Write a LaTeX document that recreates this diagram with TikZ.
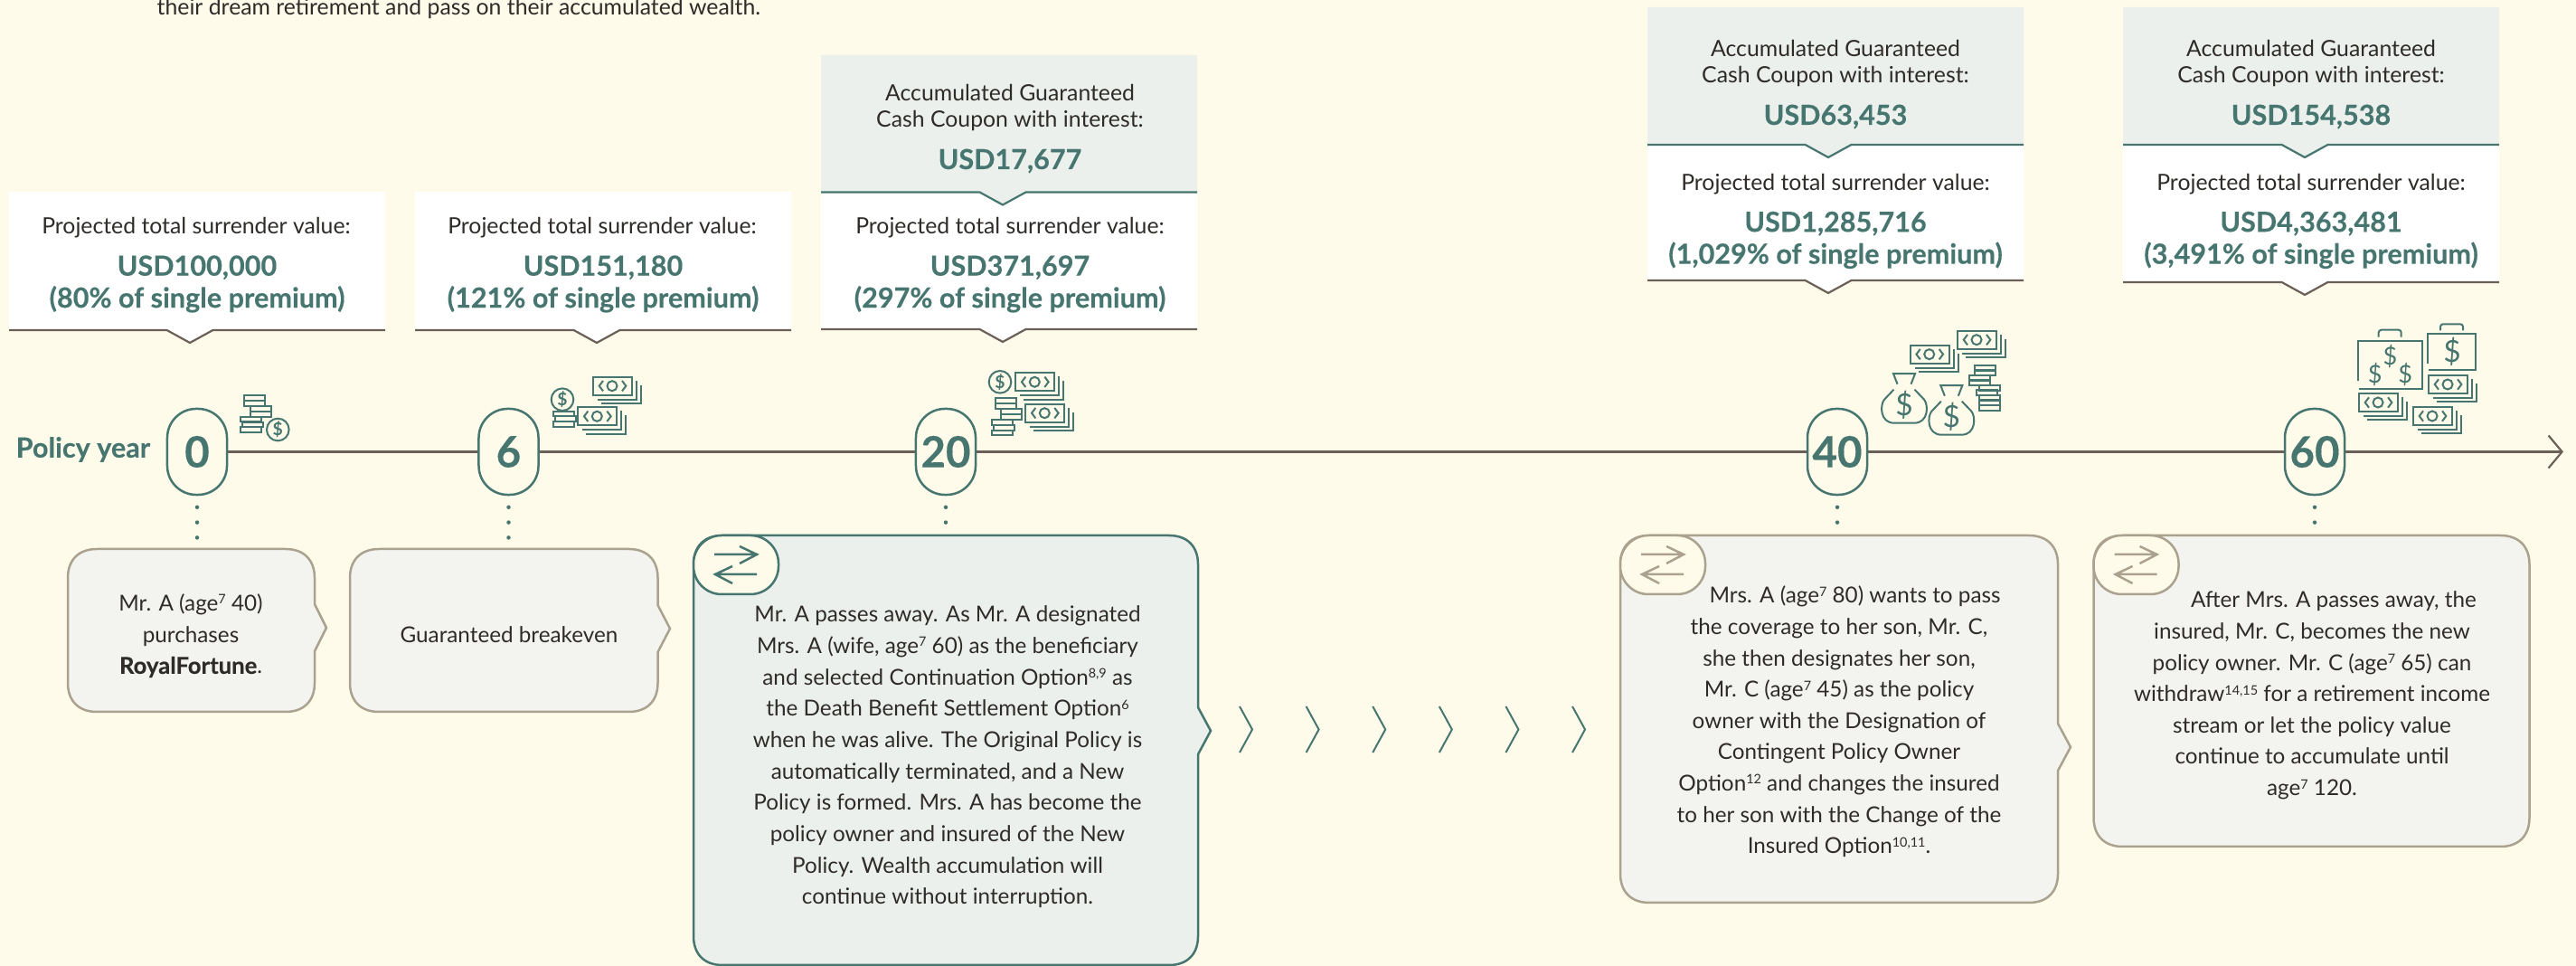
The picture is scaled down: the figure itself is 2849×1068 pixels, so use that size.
\documentclass[tikz,border=0pt]{standalone}
\usepackage{fontspec}
\setmainfont{Lato}
\newfontfamily\heavyfont[UprightFont=*-Bold,FakeBold=0.25]{Lato}
\usetikzlibrary{arrows.meta}
\definecolor{pagebg}{HTML}{FFFBEB}
\definecolor{teal}{HTML}{46766F}
\definecolor{tealfill}{HTML}{EBF0ED}
\definecolor{greyfill}{HTML}{F3F4F0}
\definecolor{taupe}{HTML}{6B6057}
\definecolor{sand}{HTML}{AAA18E}
\definecolor{ink}{HTML}{2E2B28}
\newcommand{\sups}[1]{\raisebox{0.62ex}{\fontsize{4.1}{4.1}\selectfont #1}}
\tikzset{
	labeltext/.style={inner sep=0pt,align=center,text=ink,font=\fontsize{7.05}{8.5}\selectfont},
	amounttext/.style={inner sep=0pt,align=center,text=teal,font=\fontsize{8.7}{10.05}\heavyfont},
	bodytext/.style={inner sep=0pt,align=center,text=ink,font=\fontsize{6.9}{9.85}\selectfont},
	yearpill/.style={draw=teal,line width=0.025cm,fill=pagebg,rounded corners=0.32cm,minimum width=0.66cm,minimum height=0.95cm,inner sep=0pt,text=teal,font=\fontsize{13.5}{13.5}\heavyfont},
	axisline/.style={draw=taupe,line width=0.022cm},
	dotline/.style={draw=teal,line width=0.045cm,line cap=round,dash pattern=on 0pt off 0.168cm,shorten <=0.125cm,shorten >=0.1cm},
	icon/.style={draw=teal,line width=0.02cm},
	dollarsign/.style={inner sep=0pt,text=teal}
}
\newcommand{\valuepanel}[6]{
	\fill[#5] (#1,#2) -- (#1+416,#2) -- (#1+416,#3) -- (#4+25.5,#3) -- (#4,#3+14) -- (#4-25.5,#3) -- (#1,#3) -- cycle;
	\draw[#6,line width=0.022cm] (#1,#3) -- (#4-25.5,#3) -- (#4,#3+14) -- (#4+25.5,#3) -- (#1+416,#3);
}
\newcommand{\notebox}[8]{
	\draw[#7,fill=#8,line width=0.025cm] (#1+32,#2) -- (#3-32,#2) .. controls (#3-12,#2) and (#3,#2+12) .. (#3,#2+32)
		-- (#3,#5-26) -- (#6,#5) -- (#3,#5+26) -- (#3,#4-32) .. controls (#3,#4-12) and (#3-12,#4) .. (#3-32,#4)
		-- (#1+32,#4) .. controls (#1+12,#4) and (#1,#4-12) .. (#1,#4-32) -- (#1,#2+32) .. controls (#1,#2+12) and (#1+12,#2) .. (#1+32,#2) -- cycle;
}
\newcommand{\plainnote}[6]{
	\draw[#5,fill=#6,line width=0.025cm] (#1+32,#2) -- (#3-32,#2) .. controls (#3-12,#2) and (#3,#2+12) .. (#3,#2+32)
		-- (#3,#4-32) .. controls (#3,#4-12) and (#3-12,#4) .. (#3-32,#4)
		-- (#1+32,#4) .. controls (#1+12,#4) and (#1,#4-12) .. (#1,#4-32) -- (#1,#2+32) .. controls (#1,#2+12) and (#1+12,#2) .. (#1+32,#2) -- cycle;
}
\newcommand{\swaptab}[2]{
	\draw[#2,fill=pagebg,line width=0.025cm,rounded corners=0.31cm] (#1,592) rectangle (#1+94,657);
	\draw[#2,line width=0.025cm] (#1+23,613) -- (#1+70,613) (#1+51,604) -- (#1+70,613) -- (#1+51,623);
	\draw[#2,line width=0.025cm] (#1+70,635) -- (#1+24,635) (#1+43,626) -- (#1+24,635) -- (#1+43,645);
}
\newcommand{\bill}[2]{
	\draw[icon] (#1,#2) rectangle (#1+43,#2+20);
	\draw[icon] (#1+5,#2+25) -- (#1+48,#2+25) -- (#1+48,#2+4);
	\draw[icon] (#1+9,#2+29.5) -- (#1+53,#2+29.5) -- (#1+53,#2+9);
	\draw[icon] (#1+21,#2+10) circle [radius=0.055cm];
	\draw[icon] (#1+11,#2+4.3) -- (#1+6.7,#2+10) -- (#1+11,#2+15.7);
	\draw[icon] (#1+32,#2+4.3) -- (#1+36.3,#2+10) -- (#1+32,#2+15.7);
}
\newcommand{\coinbar}[2]{\draw[icon] (#1,#2) rectangle (#1+23,#2+5.8);}
\newcommand{\coinstack}[2]{
	\foreach \dx/\dy in {0/0,0/6,6.3/11.7,6.3/17.7,-4.3/23.4,-2/29.3,-4.3/35.2}{\coinbar{#1+\dx}{#2+\dy}}
}
\newcommand{\coin}[3]{
	\draw[icon] (#2,#3) circle [radius=0.123cm];
	\node[dollarsign,font=\fontsize{5.5}{5.5}\selectfont\bfseries] (#1) at (#2,#3) {\$};
}
\newcommand{\moneybag}[3]{
	\draw[icon] (#2-7.5,#3-23) -- (#2-12,#3-34.5) -- (#2+12,#3-34.5) -- (#2+7.5,#3-23);
	\draw[icon] (#2-11.5,#3-17) -- (#2-22,#3-6) .. controls (#2-27,#3) and (#2-27,#3+20) .. (#2-11,#3+20)
		-- (#2+11,#3+20) .. controls (#2+27,#3+20) and (#2+27,#3) .. (#2+22,#3-6) -- (#2+11.5,#3-17);
	\node[dollarsign,font=\fontsize{9.5}{9.5}\selectfont] (#1) at (#2,#3) {\$};
}
\newcommand{\bigcase}[3]{
	\draw[icon] (#2,#3+44) -- (#2,#3) -- (#2+71,#3) -- (#2+71,#3+53) -- (#2+1,#3+53);
	\draw[icon,rounded corners=0.03cm] (#2+23,#3-4) -- (#2+23,#3-12) -- (#2+48,#3-12) -- (#2+48,#3-4);
	\node[dollarsign,font=\fontsize{7.7}{7.7}\selectfont] (#1a) at (#2+35.7,#3+17) {\$};
	\node[dollarsign,font=\fontsize{7.7}{7.7}\selectfont] (#1b) at (#2+19,#3+37) {\$};
	\node[dollarsign,font=\fontsize{7.7}{7.7}\selectfont] (#1c) at (#2+52.5,#3+37) {\$};
}
\newcommand{\smallcase}[3]{
	\draw[icon] (#2,#3+33) -- (#2,#3) -- (#2+53,#3) -- (#2+53,#3+40) -- (#2+1,#3+40);
	\draw[icon,rounded corners=0.03cm] (#2+14,#3-4) -- (#2+14,#3-11) -- (#2+39,#3-11) -- (#2+39,#3-4);
	\node[dollarsign,font=\fontsize{9.5}{9.5}\selectfont] (#1) at (#2+27,#3+20) {\$};
}
\begin{document}
\begin{tikzpicture}[x=0.01cm,y=-0.01cm]
	\useasboundingbox (0,0) rectangle (2849,1068);
	\fill[pagebg] (0,0) rectangle (2849,1068);
	\node[labeltext,anchor=west] (intro) at (173,10) {their dream retirement and pass on their accumulated wealth.};

	\valuepanel{10}{212}{365}{210}{white}{taupe}
	\valuepanel{459}{212}{365}{660}{white}{taupe}
	\valuepanel{908}{212.5}{364}{1109}{white}{taupe}
	\valuepanel{908}{61}{212.5}{1109}{tealfill}{teal}
	\valuepanel{1822}{160}{310}{2022}{white}{taupe}
	\valuepanel{1822}{8}{160}{2022}{tealfill}{teal}
	\valuepanel{2348}{160}{312}{2549}{white}{taupe}
	\valuepanel{2348}{8}{160}{2549}{tealfill}{teal}

	\node[labeltext] (coupA) at (1117,119) {Accumulated Guaranteed\\Cash Coupon with interest:};
	\node[amounttext] (couponA) at (1117,178) {USD17,677};
	\node[labeltext] (coupB) at (2030,70) {Accumulated Guaranteed\\Cash Coupon with interest:};
	\node[amounttext] (couponB) at (2030,129) {USD63,453};
	\node[labeltext] (coupC) at (2556,70) {Accumulated Guaranteed\\Cash Coupon with interest:};
	\node[amounttext] (couponC) at (2556,129) {USD154,538};

	\node[labeltext] (svA) at (217,252) {Projected total surrender value:};
	\node[amounttext] (valA) at (218,314) {USD100,000\\(80\% of single premium)};
	\node[labeltext] (svB) at (666,252) {Projected total surrender value:};
	\node[amounttext] (valB) at (667,314) {USD151,180\\(121\% of single premium)};
	\node[labeltext] (svC) at (1117,252) {Projected total surrender value:};
	\node[amounttext] (valC) at (1117,314) {USD371,697\\(297\% of single premium)};
	\node[labeltext] (svD) at (2030,204) {Projected total surrender value:};
	\node[amounttext] (valD) at (2030,265.5) {USD1,285,716\\(1,029\% of single premium)};
	\node[labeltext] (svE) at (2556,204) {Projected total surrender value:};
	\node[amounttext] (valE) at (2556,265.5) {USD4,363,481\\(3,491\% of single premium)};

	\node[text=teal,inner sep=0pt,anchor=west,font=\fontsize{8.7}{8.7}\heavyfont] (policy) at (17,497) {Policy year};
	\node[yearpill] (p0) at (218,499.5) {0};
	\node[yearpill] (p6) at (562.5,499.5) {6};
	\node[yearpill] (p20) at (1046,499.5) {20};
	\node[yearpill] (p40) at (2032,499.5) {40};
	\node[yearpill] (p60) at (2560,499.5) {60};
	\coordinate (axisend) at (2835,499.5);
	\draw[axisline] (p0) -- (p6);
	\draw[axisline] (p6) -- (p20);
	\draw[axisline] (p20) -- (p40);
	\draw[axisline] (p40) -- (p60);
	\draw[axisline,-{Straight Barb[length=0.15cm,width=0.36cm]}] (p60) -- (axisend);

	\notebox{75}{607}{348}{787}{694}{361}{sand}{greyfill}
	\notebox{387}{607}{727.5}{787}{695}{741}{sand}{greyfill}
	\notebox{767}{592}{1325}{1067}{808}{1339}{teal}{tealfill}
	\notebox{1792}{592}{2276}{998}{826}{2290}{sand}{greyfill}
	\plainnote{2315.5}{592}{2797.5}{936}{sand}{greyfill}
	\swaptab{767}{teal}
	\swaptab{1792}{sand}
	\swaptab{2315.5}{sand}

	\coordinate (n0) at (218,607);
	\coordinate (n6) at (562.5,607);
	\coordinate (n20) at (1046,592);
	\coordinate (n40) at (2032,592);
	\coordinate (n60) at (2560,592);
	\foreach \pname/\nname in {p0/n0,p6/n6,p20/n20,p40/n40,p60/n60}{
		\draw[dotline] (\pname.south) -- (\nname);
	}

	\foreach \x in {1371,1444.6,1518.2,1591.8,1665.4,1739}{
		\draw[teal,line width=0.02cm] (\x,781) -- (\x+14,806.5) -- (\x,832);
	}

	\node[bodytext] (noteA) at (211,703) {Mr. A (age\sups{7} 40)\\purchases\\{\fontsize{7.3}{9.85}\heavyfont RoyalFortune}.};
	\node[bodytext] (noteB) at (563,702) {Guaranteed breakeven};
	\node[bodytext] (noteC) at (1048,837) {Mr. A passes away. As Mr. A designated\\Mrs. A (wife, age\sups{7} 60) as the beneficiary\\and selected Continuation Option\sups{8,9} as\\the Death Benefit Settlement Option\sups{6}\\when he was alive. The Original Policy is\\automatically terminated, and a New\\Policy is formed. Mrs. A has become the\\policy owner and insured of the New\\Policy. Wealth accumulation will\\continue without interruption.};
	\node[bodytext] (noteD) at (2034,798) {\hspace*{0.35cm}Mrs. A (age\sups{7} 80) wants to pass\\the coverage to her son, Mr. C,\\she then designates her son,\\Mr. C (age\sups{7} 45) as the policy\\owner with the Designation of\\Contingent Policy Owner\\Option\sups{12} and changes the insured\\to her son with the Change of the\\Insured Option\sups{10,11}.};
	\node[bodytext] (noteE) at (2557,769) {\hspace*{0.48cm}After Mrs. A passes away, the\\insured, Mr. C, becomes the new\\policy owner. Mr. C (age\sups{7} 65) can\\withdraw\sups{14,15} for a retirement income\\stream or let the policy value\\continue to accumulate until\\age\sups{7} 120.};

	\coinstack{270.3}{437.3}
	\coin{dollarA}{307.3}{475}

	\bill{656}{416.7} \bill{639.3}{450.3}
	\coin{dollarB}{622}{441.7}
	\coinbar{612}{454.7} \coinbar{614}{460.5} \coinbar{612}{466.3}

	\coin{dollarC}{1106}{422.3}
	\bill{1123.3}{412.3} \bill{1134.3}{446.7}
	\coinstack{1101}{440.5}

	\bill{2165}{365.7} \bill{2112.7}{381.7}
	\foreach \dx/\dy in {0/0,0/5.5,-5.7/11,-5.7/16.5,5/22,2/27.5,5/33,5/38.5,5/44}{\coinbar{2184+\dx}{404+\dy}}
	\moneybag{bagA}{2106}{447.7}
	\moneybag{bagB}{2158.3}{460.7}

	\bigcase{caseA}{2607.7}{376.7}
	\smallcase{caseB}{2685}{369.3}
	\bill{2686}{415} \bill{2609}{435} \bill{2669}{450}
\end{tikzpicture}
\end{document}
